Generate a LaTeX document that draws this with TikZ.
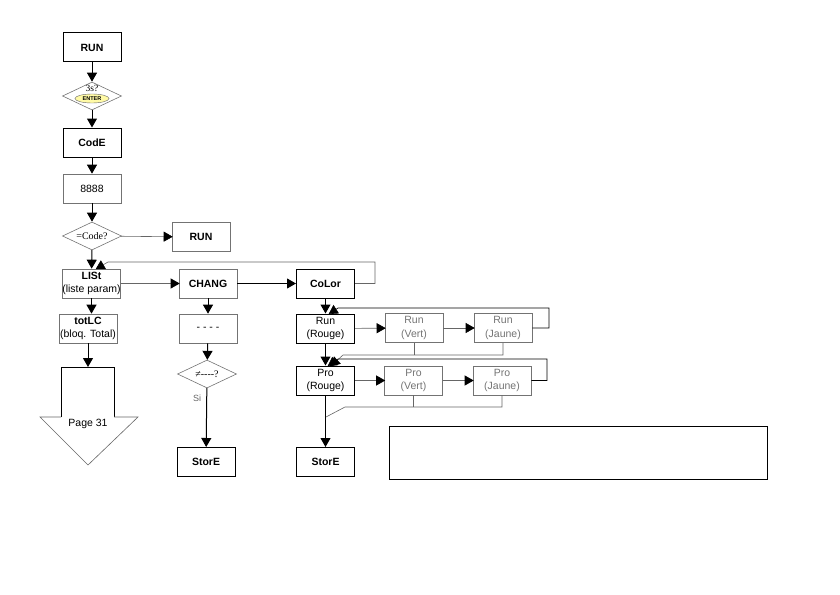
\documentclass[tikz,border=0pt]{standalone}
\usepackage{fontspec}
\setmainfont{Liberation Sans}
\newfontfamily\serifed{Liberation Serif}
\usetikzlibrary{arrows.meta,shapes.geometric}

\tikzset{
  box/.style={draw=black!55,line width=0.6pt,minimum width=58pt,minimum height=29pt,inner sep=0pt,align=center,font=\fontsize{10.5}{13.5}\selectfont},
  darkbox/.style={box,draw=black,line width=1pt},
  palebox/.style={box,text=black!55},
  test/.style={draw=black!55,line width=0.6pt,diamond,aspect=2.1,minimum width=59pt,minimum height=28pt,inner sep=0pt},
  arr/.style={line width=1pt,-{Triangle[length=9pt,width=10pt]}},
  fine/.style={black!60,line width=0.6pt},
  finearr/.style={fine,-{Triangle[length=9pt,width=10pt,color=black]},shorten >=-1pt}
}

\begin{document}
\begin{tikzpicture}[x=1pt,y=-1pt]
  \useasboundingbox (0,0) rectangle (840,594);
  % colonne de gauche
  \node[darkbox] (run) at (92,47.5) {\textbf{RUN}};
  \node[test] (tres) at (92,96) {};
  \node[font=\serifed\fontsize{9.5}{9.5}\selectfont,inner sep=0pt] (tresq) at (92,88) {3s?};
  \node[ellipse,draw=black!60,fill=yellow!35,line width=0.4pt,minimum width=34pt,minimum height=9pt,inner sep=0pt,font=\fontsize{5.5}{5.5}\selectfont\bfseries] (enter) at (92,98.5) {ENTER};
  \node[darkbox] (code) at (92,142.5) {\textbf{CodE}};
  \node[box] (huit) at (92,188.5) {8888};
  \node[test,font=\serifed\fontsize{10}{11}\selectfont] (codeq) at (92,236) {=Code?};
  \node[box] (run2) at (201,237) {\textbf{RUN}};
  \node[box] (list) at (91.5,283.5) {\textbf{LISt}\\(liste param)};
  \node[box] (totlc) at (88,328.5) {\textbf{totLC}\\(bloq. Total)};
  % fleche page 31
  \draw[line width=0.8pt] (61,417) -- (61,367) -- (114,367) -- (114,417);
  \draw[fine] (61,417) -- (40,417) -- (88,465) -- (138,417) -- (114,417);
  \node[font=\fontsize{10.5}{11.5}\selectfont] (page) at (88,424) {Page 31};
  % colonne CHANG
  \node[box] (chang) at (208,283.5) {\textbf{CHANG}};
  \node[box] (tirets) at (208,328.5) {- - - -};
  \node[test,font=\serifed\fontsize{10}{11}\selectfont] (diffq) at (207,374) {≠----?};
  \node[text=black!60,font=\fontsize{9}{10}\selectfont] (si) at (197,398) {Si};
  \node[darkbox] (store1) at (206,462) {\textbf{StorE}};
  % colonne CoLor
  \node[darkbox] (color) at (325.5,283.5) {\textbf{CoLor}};
  \node[darkbox] (runr) at (325.5,328.5) {Run\\(Rouge)};
  \node[palebox] (runv) at (414,328) {Run\\(Vert)};
  \node[palebox] (runj) at (503,328) {Run\\(Jaune)};
  \node[darkbox] (pror) at (325.5,380.5) {Pro\\(Rouge)};
  \node[palebox] (prov) at (413.5,380.5) {Pro\\(Vert)};
  \node[palebox] (proj) at (502,380.5) {Pro\\(Jaune)};
  \node[darkbox] (store2) at (325.5,462) {\textbf{StorE}};
  % cadre vide
  \node[draw,line width=1pt,minimum width=378pt,minimum height=53pt] (cadre) at (578,452.5) {};
  % liaisons
  \draw[arr] (run) -- (tres);
  \draw[arr] (tres) -- (code);
  \draw[arr] (code) -- (huit);
  \draw[arr] (huit) -- (codeq);
  \draw[arr] (codeq) -- (list);
  \draw[finearr] (codeq) -- (run2);
  \draw[arr] (list) -- (list.south |- totlc.north);
  \draw[arr] (totlc) -- (88,367);
  \draw[finearr] (list) -- (chang);
  \draw[arr] (chang) -- (color);
  \draw[arr] (chang) -- (tirets);
  \draw[arr] (tirets) -- (diffq);
  \draw[arr] (diffq) -- (store1);
  \draw[arr] (color) -- (runr);
  \draw[arr] (runr) -- (pror);
  \draw[arr] (pror) -- (store2);
  \draw[finearr] (runr) -- (runv);
  \draw[finearr] (runv) -- (runj);
  \draw[finearr] (pror) -- (prov);
  \draw[finearr] (prov) -- (proj);
  % retours
  \draw[finearr] (color.east) -| (375,262) -- (108,262) -- ([xshift=5pt]list.north);
  \draw[finearr,black] (runj.east) -| (549,308) -- (338,308) -- ([xshift=4pt]runr.north);
  \draw[fine] (runv.south) -- (runv.south |- 0,355);
  \draw[finearr] (runj.south) -- (runj.south |- 0,355) -- (343,355) -- ([xshift=6pt]pror.north);
  \draw[finearr,black] (proj.east) -| (547,359) -- (338,359) -- ([xshift=3pt]pror.north);
  \draw[fine] (prov.south) -- (prov.south |- 0,407);
  \draw[fine] (proj.south) -- (proj.south |- 0,407) -- (345,407) -- (326,417);
\end{tikzpicture}
\end{document}
